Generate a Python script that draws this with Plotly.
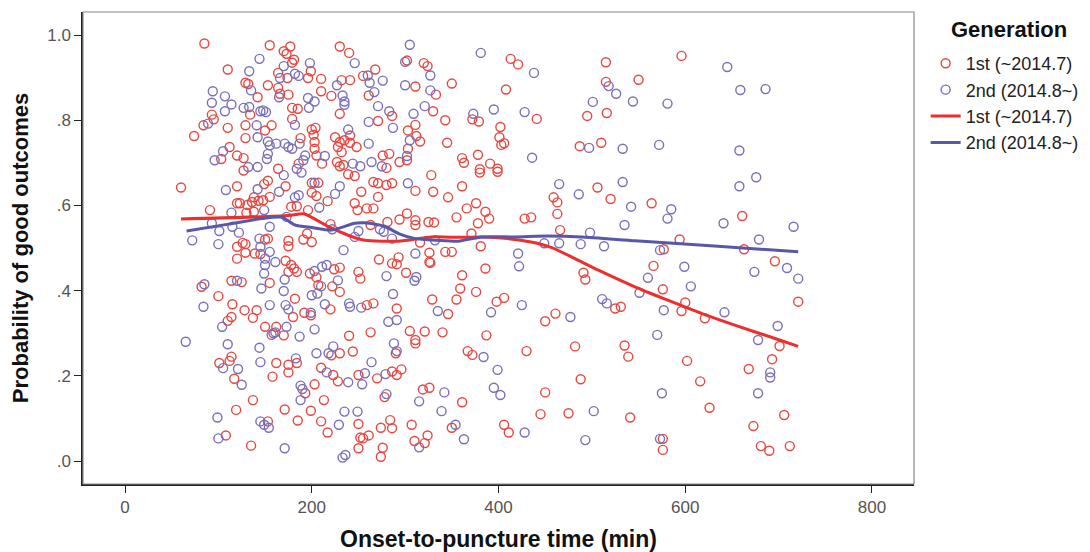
import plotly.graph_objects as go

# ---------------- data ----------------
red_x = [302,320,324,413,421,515,268,311,333,350,408,515,495,516,261,286,330,343,372,379,441,402,401,403,406,271,303,311,312,316,303,345,276,283,294,302,280,361,363,378,391,399,380,487,510,596,550,
85,155,177,170,173,230,240,181,179,110,164,199,174,196,210,232,241,255,129,132,153,164,166,175,210,221,142,134,179,185,230,93,95,84,110,129,157,150,179,200,204,74,129,202,203,188,225,230,235,241,248,241,203,205,228,232,112,103,120,127,186,211,227,234,230,164,127,
60,120,149,153,172,200,207,200,205,239,246,253,138,143,136,155,148,120,123,131,91,130,138,178,184,196,217,246,249,220,126,129,120,150,153,175,175,191,200,195,129,139,145,120,172,178,181,184,175,224,230,198,205,207,250,252,114,125,155,82,100,182,222,230,115,128,141,114,110,137,180,192,199,220,150,162,
159,170,240,221,230,244,114,112,101,162,175,184,175,158,210,223,228,250,117,193,203,137,213,119,171,199,153,185,210,250,217,108,252,255,135,250,
328,380,399,266,271,280,286,311,330,361,346,271,259,266,366,376,386,390,355,302,294,311,311,325,331,281,263,378,371,428,435,463,459,463,506,520,466,316,381,326,326,327,343,350,272,293,286,291,386,301,361,491,493,359,376,329,355,398,406,266,259,291,346,461,450,525,531,
564,661,594,577,663,696,566,576,721,600,596,621,
263,305,321,340,311,311,290,387,367,372,430,482,535,539,286,291,296,270,488,319,326,450,278,361,445,475,541,284,274,286,307,350,406,411,261,324,321,310,276,274,
701,602,693,668,616,626,706,673,576,576,681,690,712]
red_y = [0.940,0.934,0.927,0.944,0.931,0.936,0.919,0.879,0.860,0.886,0.872,0.890,0.810,0.817,0.858,0.810,0.821,0.800,0.802,0.797,0.803,0.784,0.760,0.742,0.746,0.798,0.776,0.789,0.763,0.750,0.733,0.747,0.717,0.721,0.702,0.706,0.688,0.711,0.700,0.719,0.698,0.686,0.685,0.739,0.747,0.951,0.895,
0.980,0.976,0.973,0.962,0.956,0.973,0.958,0.942,0.935,0.919,0.911,0.915,0.899,0.899,0.897,0.894,0.894,0.904,0.888,0.885,0.882,0.876,0.862,0.860,0.868,0.857,0.854,0.813,0.829,0.827,0.815,0.813,0.802,0.788,0.782,0.788,0.788,0.776,0.803,0.778,0.782,0.763,0.758,0.766,0.749,0.758,0.760,0.749,0.753,0.747,0.737,0.764,0.733,0.717,0.737,0.725,0.737,0.709,0.717,0.711,0.698,0.698,0.702,0.695,0.692,0.686,0.682,
0.642,0.645,0.650,0.658,0.645,0.653,0.653,0.630,0.622,0.673,0.669,0.632,0.619,0.611,0.608,0.620,0.612,0.605,0.605,0.601,0.589,0.583,0.585,0.597,0.598,0.589,0.610,0.605,0.589,0.556,0.512,0.509,0.503,0.520,0.522,0.517,0.504,0.520,0.514,0.534,0.489,0.487,0.486,0.475,0.470,0.460,0.452,0.444,0.444,0.450,0.454,0.440,0.431,0.413,0.444,0.428,0.423,0.420,0.418,0.409,0.387,0.381,0.410,0.397,0.368,0.354,0.354,0.338,0.329,0.336,0.338,0.348,0.342,0.356,0.315,0.315,
0.300,0.295,0.294,0.248,0.253,0.257,0.245,0.235,0.230,0.230,0.226,0.230,0.208,0.198,0.219,0.202,0.187,0.202,0.193,0.159,0.180,0.143,0.143,0.120,0.121,0.118,0.093,0.095,0.093,0.087,0.067,0.060,0.055,0.053,0.036,0.030,
0.671,0.677,0.679,0.655,0.652,0.648,0.652,0.634,0.632,0.645,0.619,0.620,0.593,0.593,0.593,0.605,0.585,0.569,0.572,0.581,0.567,0.565,0.554,0.561,0.560,0.561,0.554,0.558,0.534,0.569,0.572,0.580,0.619,0.607,0.642,0.615,0.542,0.513,0.504,0.489,0.467,0.465,0.491,0.491,0.473,0.478,0.464,0.462,0.452,0.442,0.436,0.442,0.426,0.405,0.397,0.379,0.379,0.374,0.383,0.370,0.366,0.358,0.345,0.346,0.328,0.358,0.362,
0.605,0.575,0.520,0.497,0.497,0.469,0.458,0.403,0.374,0.372,0.352,0.335,
0.302,0.305,0.304,0.302,0.284,0.276,0.253,0.295,0.258,0.249,0.258,0.269,0.271,0.245,0.210,0.202,0.215,0.194,0.192,0.168,0.172,0.161,0.150,0.138,0.110,0.112,0.102,0.096,0.078,0.077,0.085,0.078,0.085,0.067,0.060,0.060,0.042,0.047,0.031,0.010,
0.270,0.235,0.239,0.216,0.187,0.125,0.108,0.082,0.052,0.026,0.035,0.024,0.035]

blue_x = [305,381,438,300,260,262,276,327,300,327,518,526,544,501,267,271,283,309,321,373,395,428,261,287,305,261,302,264,275,436,497,533,645,659,686,581,572,658,
144,198,246,133,170,166,182,186,227,135,165,233,235,235,196,203,94,107,93,114,127,133,107,145,148,151,197,89,141,182,239,142,153,155,162,171,175,179,187,214,105,96,153,152,193,191,244,252,132,142,184,
108,142,165,170,189,203,225,230,182,186,114,149,208,173,93,101,122,115,155,222,250,246,72,100,144,145,234,155,150,161,150,149,211,216,203,210,206,228,171,120,85,146,170,200,84,155,172,175,199,214,240,241,253,104,173,203,
65,110,157,161,187,144,205,218,223,105,121,145,183,216,239,254,125,188,190,188,235,249,99,145,149,154,229,100,171,233,236,
303,273,277,286,465,486,533,542,535,498,449,465,488,513,332,311,421,422,312,310,280,287,425,335,392,477,511,516,282,291,
585,581,658,676,641,716,679,573,709,674,721,599,560,606,551,577,642,699,
288,291,384,264,279,399,395,402,342,280,315,339,502,354,428,315,363,493,257,
570,678,691,691,575,678,573]
blue_y = [0.977,0.958,0.911,0.937,0.905,0.888,0.893,0.905,0.882,0.870,0.880,0.862,0.844,0.843,0.866,0.833,0.821,0.815,0.833,0.815,0.825,0.819,0.796,0.782,0.753,0.745,0.716,0.702,0.692,0.712,0.735,0.733,0.925,0.871,0.873,0.839,0.742,0.729,
0.944,0.934,0.934,0.915,0.927,0.899,0.909,0.904,0.882,0.870,0.854,0.858,0.844,0.836,0.852,0.844,0.868,0.856,0.841,0.837,0.829,0.831,0.821,0.821,0.823,0.819,0.829,0.792,0.788,0.789,0.778,0.760,0.750,0.741,0.745,0.745,0.737,0.733,0.745,0.716,0.727,0.706,0.721,0.709,0.717,0.706,0.698,0.692,0.690,0.690,0.686,
0.636,0.638,0.632,0.671,0.677,0.653,0.627,0.645,0.619,0.624,0.583,0.589,0.595,0.573,0.558,0.540,0.536,0.550,0.550,0.544,0.540,0.526,0.518,0.509,0.522,0.503,0.495,0.491,0.475,0.467,0.460,0.440,0.456,0.460,0.446,0.410,0.393,0.424,0.426,0.423,0.415,0.405,0.399,0.389,0.362,0.366,0.366,0.356,0.348,0.368,0.370,0.362,0.360,0.315,0.315,0.309,
0.280,0.274,0.296,0.302,0.292,0.266,0.253,0.253,0.269,0.218,0.216,0.232,0.241,0.208,0.185,0.180,0.179,0.177,0.169,0.143,0.116,0.116,0.102,0.093,0.085,0.078,0.085,0.053,0.030,0.008,0.014,
0.652,0.544,0.538,0.522,0.650,0.626,0.655,0.597,0.554,0.536,0.511,0.511,0.509,0.504,0.518,0.487,0.487,0.457,0.432,0.423,0.434,0.392,0.366,0.352,0.349,0.338,0.380,0.370,0.327,0.331,
0.591,0.569,0.645,0.666,0.558,0.550,0.520,0.495,0.453,0.444,0.428,0.456,0.430,0.410,0.395,0.354,0.349,0.317,
0.276,0.258,0.244,0.232,0.204,0.214,0.172,0.155,0.161,0.157,0.140,0.117,0.117,0.085,0.067,0.032,0.051,0.049,0.206,
0.296,0.284,0.208,0.196,0.159,0.159,0.052]

red_fit_x = [60,175,192,218,239,257,293,328,357,382,410,435,457,482,507,546,582,618,653,701,721]
red_fit_y = [0.568,0.576,0.580,0.550,0.530,0.518,0.516,0.526,0.525,0.526,0.522,0.514,0.501,0.475,0.448,0.409,0.377,0.346,0.319,0.284,0.269]
blue_fit_x = [66,111,146,168,182,200,221,246,257,278,293,311,335,357,382,418,453,489,546,635,721]
blue_fit_y = [0.540,0.556,0.569,0.572,0.554,0.548,0.542,0.558,0.559,0.551,0.534,0.522,0.518,0.516,0.526,0.526,0.528,0.526,0.517,0.504,0.491]

x_ticks = [0, 200, 400, 600, 800]
y_ticks = [0.0, 0.2, 0.4, 0.6, 0.8, 1.0]
y_tick_text = [".0", ".2", ".4", ".6", ".8", "1.0"]

name_1st = "1st (~2014.7)"
name_2nd = "2nd (2014.8~)"
legend_title = "Generation"

# ---------------- figure ----------------
RED_M = "#e8473f"
BLUE_M = "#7770ba"
RED_L = "#ec2f2c"
BLUE_L = "#5857a8"
FONT = "Arial, Liberation Sans, sans-serif"

fig = go.Figure()
fig.add_trace(go.Scatter(x=red_x, y=red_y, mode="markers", name=name_1st,
                         marker=dict(symbol="circle-open", size=9, color=RED_M,
                                     line=dict(width=1.4, color=RED_M))))
fig.add_trace(go.Scatter(x=blue_x, y=blue_y, mode="markers", name=name_2nd,
                         marker=dict(symbol="circle-open", size=9, color=BLUE_M,
                                     line=dict(width=1.4, color=BLUE_M))))
fig.add_trace(go.Scatter(x=red_fit_x, y=red_fit_y, mode="lines", name=name_1st,
                         line=dict(color=RED_L, width=3, shape="spline", smoothing=0.6)))
fig.add_trace(go.Scatter(x=blue_fit_x, y=blue_fit_y, mode="lines", name=name_2nd,
                         line=dict(color=BLUE_L, width=3, shape="spline", smoothing=0.6)))

# The page adds an 8px body margin, so the figure is 8px smaller than the window.
fig.update_layout(
    width=1082, height=544,
    margin=dict(l=75, r=176, t=4, b=68),
    paper_bgcolor="white", plot_bgcolor="white",
    font=dict(family=FONT, size=17, color="#333"),
    showlegend=True,
    legend=dict(
        x=1.014, y=0.93, xanchor="left", yanchor="top",
        font=dict(size=18, color="#222", family=FONT),
        tracegroupgap=0, itemwidth=30, bgcolor="rgba(0,0,0,0)",
    ),
    annotations=[dict(text="<b>" + legend_title + "</b>", xref="paper", yref="paper",
                      x=1.114, y=0.962, xanchor="center", yanchor="middle",
                      showarrow=False, font=dict(size=22, color="#111", family=FONT))],
    shapes=[dict(type="rect", xref="paper", yref="paper", x0=0, x1=1, y0=0, y1=1,
                 line=dict(color="#8a8a8a", width=1.2), layer="above")],
)

fig.update_xaxes(
    range=[-45, 845], tickvals=x_ticks, ticks="outside", ticklen=7, tickcolor="#222",
    showline=True, linecolor="#222", linewidth=1.5, showgrid=False, zeroline=False,
    tickfont=dict(size=17, color="#555"),
    title=dict(text="<b>Onset-to-puncture time (min)</b>", standoff=15,
               font=dict(size=23, color="#111")),
    automargin=False,
)
fig.update_yaxes(
    range=[-0.054, 1.054], tickvals=y_ticks, ticktext=y_tick_text, ticks="outside",
    ticklen=7, tickcolor="#222",
    showline=True, linecolor="#222", linewidth=1.5, showgrid=False, zeroline=False,
    tickfont=dict(size=17, color="#555"),
    title=dict(text="<b>Probability of good outcomes</b>", standoff=16,
               font=dict(size=22, color="#111")),
    automargin=False,
)

fig.write_html("out.html")
